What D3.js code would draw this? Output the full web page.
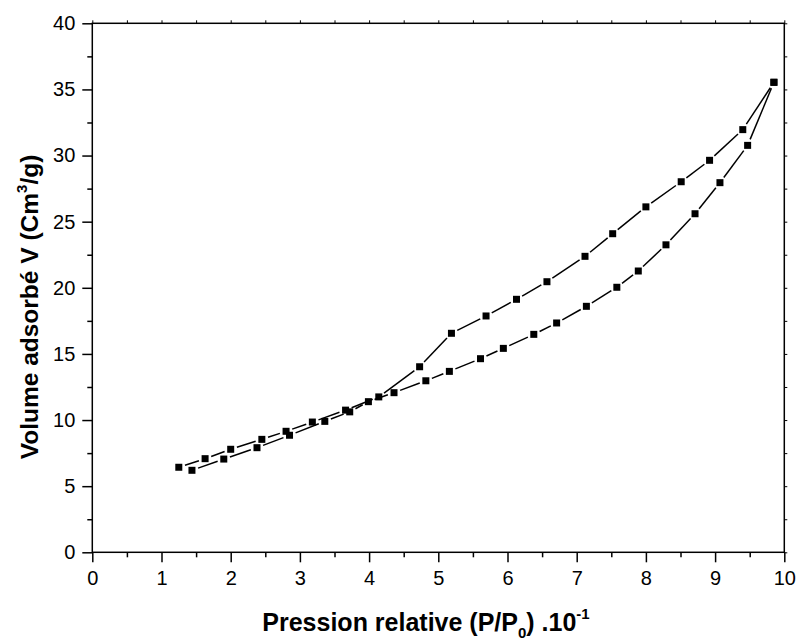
<!DOCTYPE html>
<html><head><meta charset="utf-8">
<script src="https://cdn.jsdelivr.net/npm/d3@7"></script>
<style>body{margin:0;background:#fff;} text{font-family:"Liberation Sans",Arial,sans-serif;}</style>
</head><body>
<svg id="c" width="800" height="644"></svg>
<script>
// Desorption branch (upper)
const desX = [1.25,1.63,2.00,2.45,2.80,3.18,3.66,4.14,4.73,5.19,5.69,6.13,6.57,7.12,7.52,8.00,8.51,8.92,9.40,9.85];
const desY = [6.43,7.08,7.79,8.54,9.15,9.85,10.75,11.75,14.03,16.56,17.87,19.13,20.46,22.38,24.09,26.12,28.02,29.64,31.96,35.54];
// Adsorption branch (lower)
const adsX = [1.44,1.90,2.38,2.85,3.36,3.72,3.99,4.36,4.82,5.16,5.61,5.94,6.38,6.71,7.14,7.58,7.89,8.29,8.71,9.07,9.47,9.85];
const adsY = [6.20,7.05,7.91,8.85,9.90,10.62,11.39,12.07,12.97,13.68,14.64,15.42,16.48,17.34,18.60,20.04,21.27,23.25,25.60,27.95,30.77,35.54];
const xTicks = [0,1,2,3,4,5,6,7,8,9,10];
const yTicks = [0,5,10,15,20,25,30,35,40];

const svg = d3.select("#c");
const L = 92.3, R = 784.3, T = 23.3, B = 552.3;
const x = d3.scaleLinear().domain([0,10]).range([L,R]);
const y = d3.scaleLinear().domain([0,40]).range([B,T]);

// frame
svg.append("rect").attr("x",L).attr("y",T).attr("width",R-L).attr("height",B-T)
  .attr("fill","none").attr("stroke","#000").attr("stroke-width",1.5);

// bottom axis
const xMinor = d3.range(0.5,10,1);
const gb = svg.append("g").attr("transform",`translate(0,${B})`)
  .call(d3.axisBottom(x).tickValues(xTicks).tickFormat(d3.format("d")).tickSize(10).tickPadding(9));
gb.select(".domain").remove();
gb.selectAll(".tick line").attr("stroke-width",1.5);
gb.selectAll("text").attr("font-size",20).attr("fill","#000");
svg.append("g").attr("transform",`translate(0,${B})`)
  .call(d3.axisBottom(x).tickValues(xMinor).tickFormat("").tickSize(5))
  .call(g=>{g.select(".domain").remove(); g.selectAll("line").attr("stroke-width",1.5);});

// left axis
const yMinor = d3.range(2.5,40,5);
const gl = svg.append("g").attr("transform",`translate(${L},0)`)
  .call(d3.axisLeft(y).tickValues(yTicks).tickFormat(d3.format("d")).tickSize(10).tickPadding(7));
gl.select(".domain").remove();
gl.selectAll(".tick line").attr("stroke-width",1.5);
gl.selectAll("text").attr("font-size",20).attr("fill","#000");
svg.append("g").attr("transform",`translate(${L},0)`)
  .call(d3.axisLeft(y).tickValues(yMinor).tickFormat("").tickSize(5))
  .call(g=>{g.select(".domain").remove(); g.selectAll("line").attr("stroke-width",1.5);});

// top and right small ticks
svg.append("g").attr("transform",`translate(0,${T})`)
  .call(d3.axisTop(x).tickValues(d3.range(0,10.01,0.5)).tickFormat("").tickSize(3))
  .call(g=>{g.select(".domain").remove(); g.selectAll("line").attr("stroke-width",1);});
svg.append("g").attr("transform",`translate(${R},0)`)
  .call(d3.axisRight(y).tickValues(d3.range(0,40.01,2.5)).tickFormat("").tickSize(3))
  .call(g=>{g.select(".domain").remove(); g.selectAll("line").attr("stroke-width",1);});

// series with gaps around markers
const gap = 6.5;
function drawSeries(xs, ys){
  const pts = xs.map((v,i)=>[x(v), y(ys[i])]);
  const segs = [];
  for(let i=0;i<pts.length-1;i++){
    const [x1,y1]=pts[i],[x2,y2]=pts[i+1];
    const dx=x2-x1, dy=y2-y1, len=Math.hypot(dx,dy);
    if(len<=2*gap) continue;
    const ux=dx/len, uy=dy/len;
    segs.push([x1+ux*gap,y1+uy*gap,x2-ux*gap,y2-uy*gap]);
  }
  svg.append("g").selectAll("line").data(segs).join("line")
    .attr("x1",d=>d[0]).attr("y1",d=>d[1]).attr("x2",d=>d[2]).attr("y2",d=>d[3])
    .attr("stroke","#000").attr("stroke-width",1.5);
  svg.append("g").selectAll("rect").data(pts).join("rect")
    .attr("x",d=>d[0]-3.5).attr("y",d=>d[1]-3.5).attr("width",7).attr("height",7).attr("fill","#000");
}
drawSeries(desX, desY);
drawSeries(adsX, adsY);

// axis titles
const xt = svg.append("text").attr("x",426).attr("y",630.5).attr("text-anchor","middle")
  .attr("font-size",25).attr("font-weight","bold").attr("fill","#000");
xt.append("tspan").text("Pression relative (P/P");
xt.append("tspan").attr("font-size",15).attr("dy",7).text("0");
xt.append("tspan").attr("dy",-7).text(") .10");
xt.append("tspan").attr("font-size",15).attr("dy",-12).text("-1");

const yt = svg.append("text").attr("transform",`translate(38,307) rotate(-90)`).attr("text-anchor","middle")
  .attr("font-size",24.5).attr("font-weight","bold").attr("fill","#000");
yt.append("tspan").text("Volume adsorbé V (Cm");
yt.append("tspan").attr("font-size",15).attr("dy",-11).text("3");
yt.append("tspan").attr("dy",11).text("/g)");
</script>
</body></html>
